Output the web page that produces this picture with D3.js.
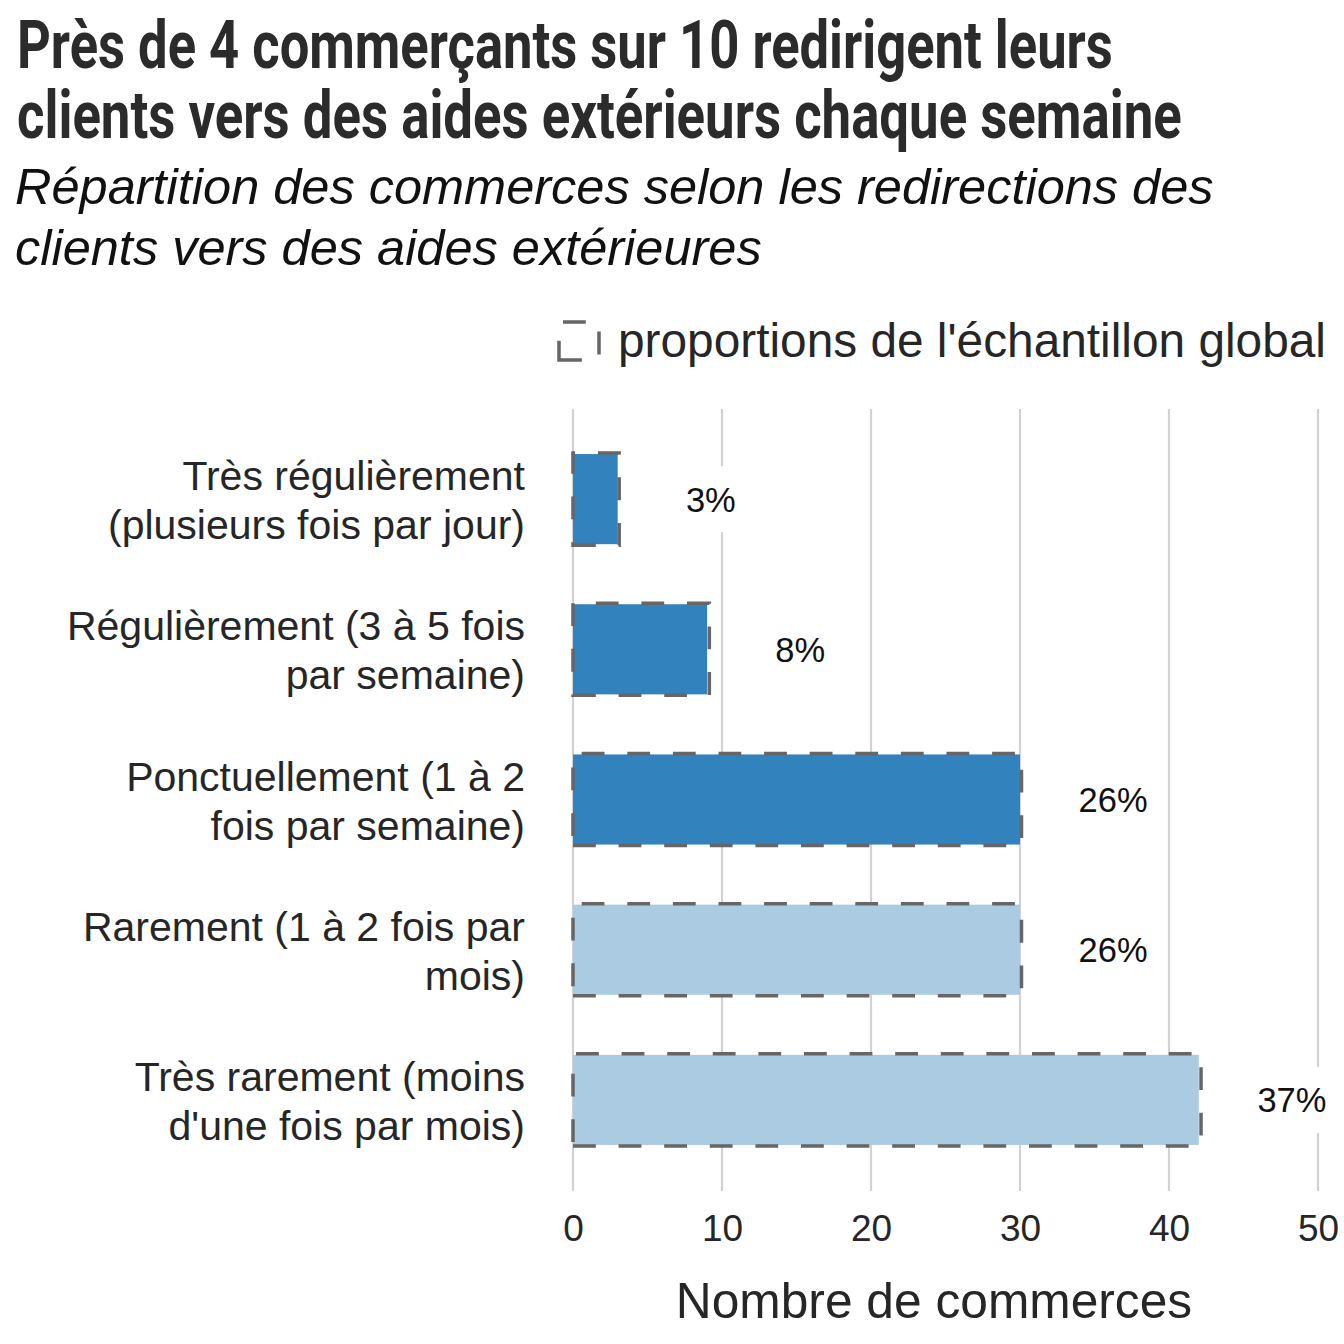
<!DOCTYPE html>
<html><head><meta charset="utf-8">
<script src="https://cdn.jsdelivr.net/npm/d3@7"></script>
<style>
html,body{margin:0;padding:0;background:#fff;}
svg{display:block;}
</style></head>
<body>
<svg id="chart" width="1344" height="1344"></svg>
<script>
const categories = [
  ["Très régulièrement", "(plusieurs fois par jour)"],
  ["Régulièrement (3 à 5 fois", "par semaine)"],
  ["Ponctuellement (1 à 2", "fois par semaine)"],
  ["Rarement (1 à 2 fois par", "mois)"],
  ["Très rarement (moins", "d'une fois par mois)"]
];
const counts = [3, 9, 30, 30, 42];
const globalCounts = [3.1, 9.15, 30.1, 30.1, 42.15];
const percentLabels = ["3%", "8%", "26%", "26%", "37%"];
const barColors = ["#3182bd", "#3182bd", "#3182bd", "#abcbe2", "#abcbe2"];
const xTicks = [0, 10, 20, 30, 40, 50];
const titleLines = ["Près de 4 commerçants sur 10 redirigent leurs", "clients vers des aides extérieurs chaque semaine"];
const subtitleLines = ["Répartition des commerces selon les redirections des", "clients vers des aides extérieures"];
const legendLabel = "proportions de l'échantillon global";
const xTitle = "Nombre de commerces";

const svg = d3.select("#chart");
const SANS = "'Liberation Sans', Arial, Helvetica, sans-serif";

const x = d3.scaleLinear().domain([0, 50]).range([573, 1318]);
const keys = categories.map((c, i) => i);
const y = d3.scaleBand().domain(keys).range([409, 1190]).paddingInner(0.4).paddingOuter(0.3);

// dashed outline path: starts bottom-left, goes right, up, left, down
function outline(x0, y0, x1, y1) {
  const p = d3.path();
  p.moveTo(x0, y1); p.lineTo(x1, y1); p.lineTo(x1, y0); p.lineTo(x0, y0); p.closePath();
  return p.toString();
}

// Title (condensed via horizontal scale)
const titleW = [1096, 1165];
svg.append("g").selectAll("text").data(titleLines).join("text")
  .attr("x", 0).attr("y", 0)
  .attr("font-family", "Roboto, 'DejaVu Sans', sans-serif")
  .attr("font-weight", 700).attr("font-size", 67).attr("fill", "#2b2b2b")
  .text(d => d)
  .each(function (d, i) {
    const w = this.getComputedTextLength();
    d3.select(this).attr("transform", `translate(17,${68 + i * 70}) scale(${titleW[i] / w},1)`);
  });

// Subtitle
svg.append("g").selectAll("text").data(subtitleLines).join("text")
  .attr("x", 15).attr("y", (d, i) => 204 + i * 61)
  .attr("font-family", SANS).attr("font-style", "italic")
  .attr("font-size", 50.5).attr("fill", "#111")
  .text(d => d);

// Gridlines
svg.append("g").selectAll("line").data(xTicks).join("line")
  .attr("x1", d => x(d)).attr("x2", d => x(d))
  .attr("y1", 409).attr("y2", 1191)
  .attr("stroke", "#d2d2d2").attr("stroke-width", 2.2);

// Bars
svg.append("g").selectAll("rect").data(keys).join("rect")
  .attr("x", x(0)).attr("y", i => y(i))
  .attr("width", i => x(counts[i]) - x(0)).attr("height", y.bandwidth())
  .attr("fill", i => barColors[i]);

// Global sample dashed outlines
svg.append("g").selectAll("path").data(keys).join("path")
  .attr("d", i => outline(x(0), y(i) - 1, x(globalCounts[i]), y(i) + y.bandwidth() + 1))
  .attr("fill", "none").attr("stroke", "#666").attr("stroke-width", 3.5)
  .attr("stroke-dasharray", "22.8 22.8");

// Percent labels with white box
const lab = svg.append("g").selectAll("g").data(keys).join("g")
  .attr("transform", i => `translate(${x(counts[i] + 6.25)},${y(i) + y.bandwidth() / 2})`);
lab.append("rect").attr("fill", "#fff");
lab.append("text")
  .attr("text-anchor", "middle").attr("dy", "0.36em")
  .attr("font-family", SANS).attr("font-size", 34.5).attr("fill", "#111")
  .text(i => percentLabels[i]);
lab.each(function () {
  const g = d3.select(this);
  const w = g.select("text").node().getComputedTextLength();
  g.select("rect").attr("x", -w / 2 - 12).attr("y", -33).attr("width", w + 24).attr("height", 66);
});

// Y labels
const yl = svg.append("g").selectAll("text").data(keys).join("text")
  .attr("x", 525).attr("y", i => y(i) + y.bandwidth() / 2)
  .attr("text-anchor", "end")
  .attr("font-family", SANS).attr("font-size", 41).attr("fill", "#262626");
yl.selectAll("tspan").data(i => categories[i]).join("tspan")
  .attr("x", 525).attr("dy", (d, j) => j === 0 ? -9 : 49)
  .text(d => d);

// X axis
const xAxis = svg.append("g").attr("transform", "translate(0,1191)")
  .call(d3.axisBottom(x).tickValues(xTicks).tickSize(0).tickPadding(50).tickFormat(d3.format("d")));
xAxis.select(".domain").remove();
xAxis.selectAll("text").attr("font-family", SANS).attr("font-size", 37).attr("fill", "#262626").attr("dy", 0);

// X title
svg.append("text").attr("x", 934).attr("y", 1318).attr("text-anchor", "middle")
  .attr("font-family", SANS).attr("font-size", 49.7).attr("fill", "#262626")
  .text(xTitle);

// Legend
svg.append("path").attr("d", outline(559, 322, 599, 360))
  .attr("fill", "none").attr("stroke", "#666").attr("stroke-width", 3.5)
  .attr("stroke-dasharray", "22.8 22.8");
svg.append("text").attr("x", 618).attr("y", 357)
  .attr("font-family", SANS).attr("font-size", 47.8).attr("fill", "#262626")
  .text(legendLabel);
</script>
</body></html>
